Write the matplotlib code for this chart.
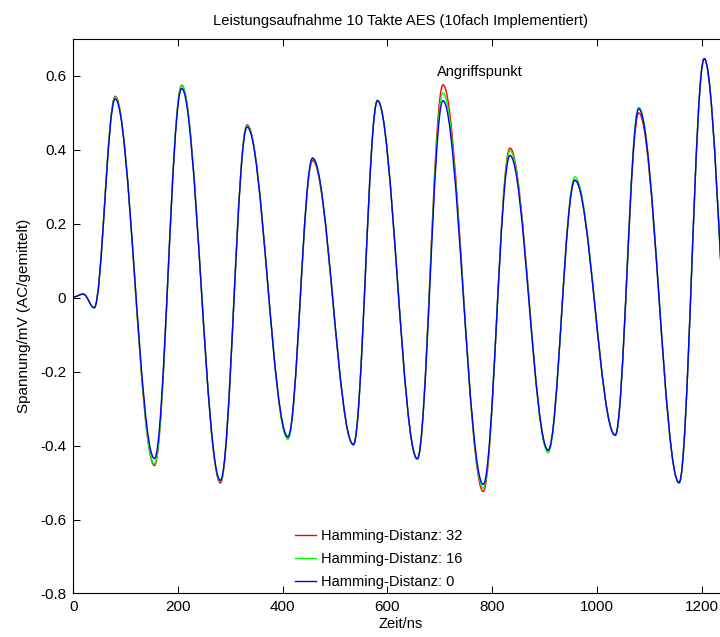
import matplotlib.pyplot as plt
from matplotlib.path import Path
from matplotlib.patches import PathPatch
from matplotlib.lines import Line2D

plt.rcParams['font.family'] = ['Liberation Sans', 'DejaVu Sans']

# Zeitpunkte der Extrema (ns)
zeit = [0, 19, 40, 80, 155, 207, 281, 332, 410, 457, 535, 581, 657, 706,
        783, 834, 907, 958, 1035, 1080, 1157, 1205, 1268]

# Spannungswerte an diesen Punkten (mV)
hd32 = [0.002, 0.010, -0.027, 0.545, -0.454, 0.575, -0.501, 0.468, -0.378,
        0.371, -0.398, 0.534, -0.437, 0.576, -0.524, 0.405, -0.414, 0.318,
        -0.372, 0.500, -0.500, 0.647, -0.45]
hd16 = [0.002, 0.010, -0.027, 0.543, -0.450, 0.574, -0.497, 0.466, -0.383,
        0.376, -0.397, 0.534, -0.437, 0.554, -0.515, 0.398, -0.419, 0.327,
        -0.372, 0.515, -0.502, 0.647, -0.45]
hd0 = [0.002, 0.010, -0.027, 0.538, -0.435, 0.566, -0.494, 0.462, -0.376,
       0.378, -0.397, 0.533, -0.435, 0.533, -0.505, 0.385, -0.412, 0.318,
       -0.372, 0.511, -0.500, 0.647, -0.45]

labels = ['Hamming-Distanz: 32', 'Hamming-Distanz: 16', 'Hamming-Distanz: 0']
farben = ['#ff0000', '#00ff00', '#0000ff']


def kurve(t, v):
    # glatte Bezier-Kurve mit waagrechter Tangente an den Extrema
    k = 0.363
    verts = [(t[0], v[0])]
    codes = [Path.MOVETO]
    for i in range(1, len(t)):
        dt = t[i] - t[i - 1]
        verts += [(t[i - 1] + k * dt, v[i - 1]), (t[i] - k * dt, v[i]), (t[i], v[i])]
        codes += [Path.CURVE4] * 3
    return Path(verts, codes)


fig = plt.figure(figsize=(7.2, 6.37), dpi=100)
ax = fig.add_axes([0.1018, 0.0683, 0.909, 0.8705])

for werte, farbe in zip([hd32, hd16, hd0], farben):
    ax.add_patch(PathPatch(kurve(zeit, werte), facecolor='none', edgecolor=farbe, lw=1.0))

ax.set_xlim(0, 1250)
ax.set_ylim(-0.8, 0.7)
ax.set_xticks([0, 200, 400, 600, 800, 1000, 1200])
ax.set_yticks([-0.8, -0.6, -0.4, -0.2, 0, 0.2, 0.4, 0.6])
ax.set_yticklabels(['-0.8', '-0.6', '-0.4', '-0.2', '0', '0.2', '0.4', '0.6'])
ax.tick_params(direction='in', length=5, width=0.75, top=True, right=True,
               labelsize=11, pad=5)
for s in ax.spines.values():
    s.set_linewidth(0.8)

ax.set_title('Leistungsaufnahme 10 Takte AES (10fach Implementiert)', fontsize=10.6, pad=10)
ax.set_xlabel('Zeit/ns', fontsize=10.5, labelpad=2)
ax.set_ylabel('Spannung/mV (AC/gemittelt)', fontsize=11, labelpad=7)

ax.text(694, 0.612, 'Angriffspunkt', fontsize=10.5, ha='left', va='center')

handles = [Line2D([], [], color=f, lw=1.0) for f in farben]
fig.legend(handles, labels, loc='center', bbox_to_anchor=(0.5257, 0.1225),
           frameon=False, fontsize=10.5, handlelength=1.45, handletextpad=0.3,
           labelspacing=0.6)

plt.savefig('out.png')
